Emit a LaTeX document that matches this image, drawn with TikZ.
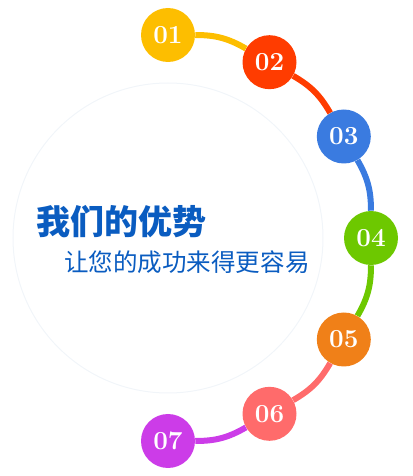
\documentclass[tikz,border=0pt]{standalone}
\usepackage{fontspec}
\usetikzlibrary{calc}
\newfontfamily\cjk{Noto Sans CJK SC}
\definecolor{cyellow}{HTML}{FDBE00}
\definecolor{cred}{HTML}{FF3C00}
\definecolor{cblue}{HTML}{3A7BE0}
\definecolor{cgreen}{HTML}{6DC800}
\definecolor{corange}{HTML}{F08018}
\definecolor{cpink}{HTML}{FF6B6B}
\definecolor{cmagenta}{HTML}{CC3CE8}
\definecolor{tblue}{HTML}{0A5CC0}
\definecolor{ringgray}{HTML}{F1F5F9}

\begin{document}
\begin{tikzpicture}[x=0.75pt,y=0.75pt,
  dot/.style={circle,fill=#1,minimum size=40.5pt,inner sep=0pt,text=white,
    font=\bfseries\fontsize{19.5}{19.5}\selectfont},
  link/.style={line width=4.5pt,draw=#1}]
  \useasboundingbox (0,0) rectangle (412,476);
  \coordinate (ctr) at (168,238);
  \draw[ringgray,line width=0.75pt] (ctr) circle (155);
  % numbered steps on the outer arc
  \foreach \n/\a/\c in {1/90/cyellow,2/60/cred,3/30/cblue,4/0/cgreen,
                        5/-30/corange,6/-60/cpink,7/-90/cmagenta}
    \node[dot=\c] (c\n) at ($(ctr)+(\a:203)$) {0\n};
  \draw[link=cyellow] (c1) to[bend left=15] (c2);
  \draw[link=cred] (c2) to[bend left=15] (c3);
  \draw[link=cblue] (c3) to[bend left=15] (c4);
  \draw[link=cgreen] (c4) to[bend left=15] (c5);
  \draw[link=cpink] (c5) to[bend left=15] (c6);
  \draw[link=cmagenta] (c6) to[bend left=15] (c7);
  % texts
  \node[anchor=west,inner sep=0pt,text=tblue,
    font=\cjk\bfseries\fontsize{25.5}{25.5}\selectfont] (title) at (36,254) {我们的优势};
  \node[anchor=west,inner sep=0pt,text=tblue,
    font=\cjk\fontsize{18.4}{18.4}\selectfont] (slogan) at (64,214) {让您的成功来得更容易};
\end{tikzpicture}
\end{document}
